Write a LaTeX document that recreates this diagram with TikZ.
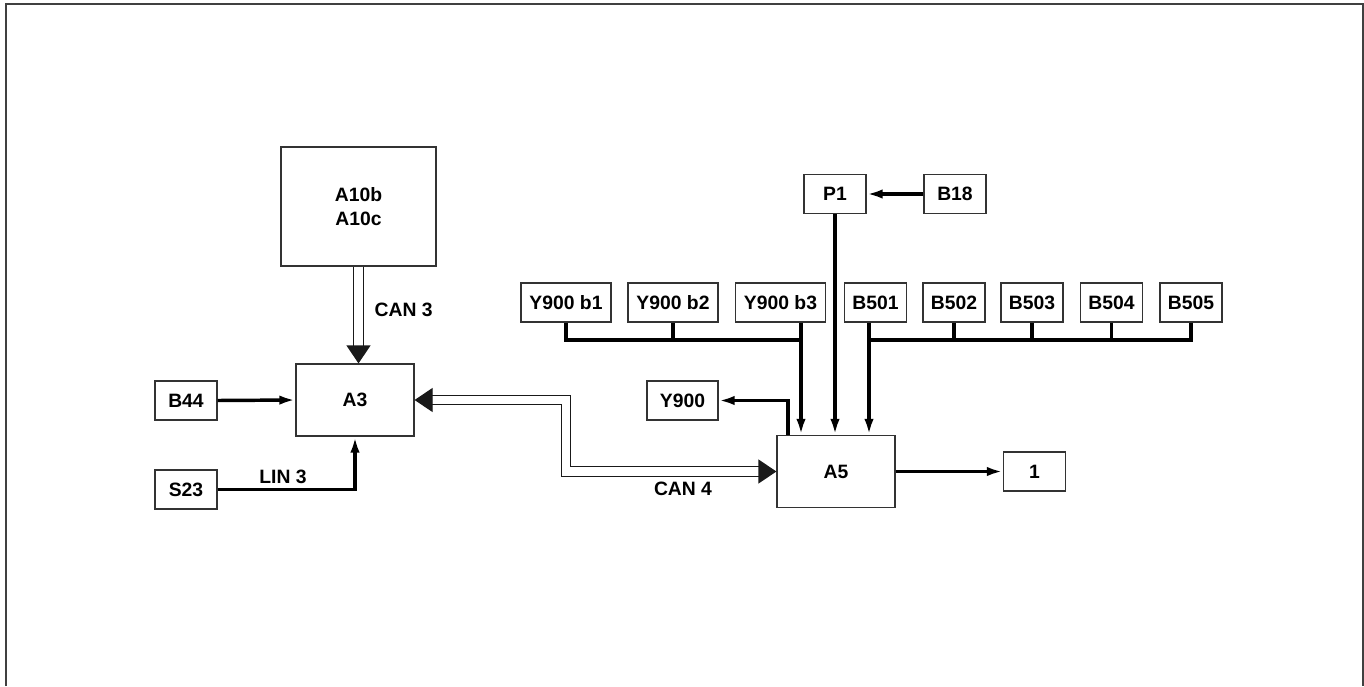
\documentclass[tikz,border=0pt]{standalone}
\usepackage{fontspec}
\setmainfont{Liberation Sans}
\usetikzlibrary{arrows.meta}
\definecolor{boxline}{rgb}{0.2,0.2,0.2}

\begin{document}
\begin{tikzpicture}[x=0.75pt,y=-0.75pt,
		font=\bfseries\fontsize{14.5}{17.5}\selectfont,
		box/.style={draw=boxline,line width=0.9pt,inner sep=0pt,minimum height=29.25pt,minimum width=46.5pt},
		ecu/.style={box,minimum width=88.5pt,minimum height=54pt},
		wire/.style={line width=2.6pt},
		sig/.style={wire,-{Latex[length=12pt,width=7pt]}},
		canbus/.style={draw=black!90,line width=0.9pt,double distance=6.2pt},
		tri/.tip={Triangle[length=13.5pt,width=18pt]}]
	\useasboundingbox (0,0) rectangle (1364,686);
	\draw[black!75,line width=1.4pt] (6,686) -- (6,4) -- (1363,4) -- (1363,686);
	% control units
	\node[box,minimum width=116.25pt,minimum height=89.25pt,align=center] (A10) at (358.5,206.5) {A10b\\A10c};
	\node[ecu] (A3) at (355,400) {A3};
	\node[ecu] (A5) at (836,471.5) {A5};
	% left side
	\node[box] (B44) at (186,400.5) {B44};
	\node[box] (S23) at (186,489.5) {S23};
	% right side
	\node[box] (P1) at (835,194) {P1};
	\node[box] (B18) at (955,194) {B18};
	\node[box,minimum width=53.25pt] (Y900) at (682.5,400.5) {Y900};
	\node[box] (one) at (1034.5,471.5) {1};
	\node[box,minimum width=67.5pt] (yb1) at (566,302.5) {Y900 b1};
	\node[box,minimum width=67.5pt] (yb2) at (673,302.5) {Y900 b2};
	\node[box,minimum width=67.5pt] (yb3) at (780.5,302.5) {Y900 b3};
	\foreach \n/\x in {501/875.5,502/954,503/1032,504/1111.5,505/1191}
		\node[box] (B\n) at (\x,302.5) {B\n};
	% CAN lines
	\draw[canbus,-tri] (A10.south) -- (A3.north -| A10.south);
	\node[anchor=west] (can3) at (370,310) {CAN 3};
	\coordinate (c4) at (566,436);
	\draw[canbus,tri-tri] (A3.east) -| (c4) |- (A5.west);
	\node (can4) at (683,489) {CAN 4};
	% wires
	\draw[sig] (B44.east) -- (A3.west);
	\draw[sig] (S23.east) -| (A3.south);
	\node (lin3) at (283,477) {LIN 3};
	\draw[sig] (B18.west) -- (P1.east);
	\draw[sig] (P1.south) -- (P1.south |- A5.north);
	\draw[sig] (A5.east) -- (one.west);
	\draw[sig] (A5.north -| 788,0) |- (Y900.east);
	\coordinate (lbus) at (801,340);
	\coordinate (rbus) at (869,340);
	\draw[wire] (yb1.south) |- (lbus);
	\draw[wire] (yb2.south) -- (yb2.south |- lbus);
	\draw[sig] (yb3.south -| lbus) -- (lbus |- A5.north);
	\draw[wire] (B505.south) |- (rbus);
	\foreach \n in {502,503,504}
		\draw[wire] (B\n.south) -- (B\n.south |- rbus);
	\draw[sig] (B501.south -| rbus) -- (rbus |- A5.north);
\end{tikzpicture}
\end{document}
